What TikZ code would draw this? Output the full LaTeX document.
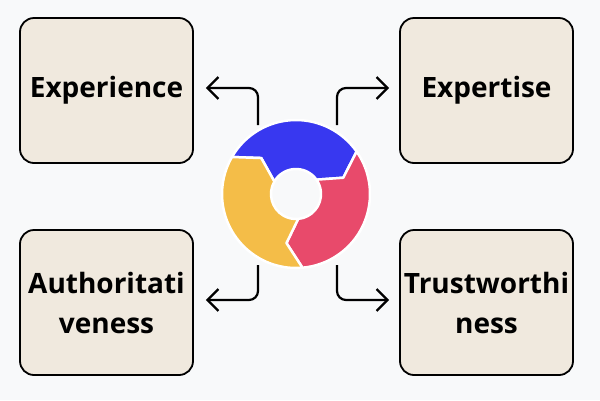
\documentclass[tikz,border=0pt]{standalone}
\usepackage{fontspec}
\setmainfont{Open Sans}
\usetikzlibrary{arrows.meta}
\definecolor{bg}{HTML}{F8F9FA}
\definecolor{boxfill}{HTML}{F0E9DE}
\definecolor{ringblue}{HTML}{3838F0}
\definecolor{ringred}{HTML}{E84A6B}
\definecolor{ringyellow}{HTML}{F4BD48}
\begin{document}
\begin{tikzpicture}
  [
    x=1pt, y=-1pt,
    card/.style={draw=black, line width=1.8pt, fill=boxfill, rounded corners=14pt,
      minimum width=173pt, minimum height=145pt, align=center,
      font=\fontsize{28}{40}\selectfont\bfseries},
    link/.style={line width=2.2pt, rounded corners=9pt, -{Straight Barb[length=11pt,width=22pt,line width=2.2pt]}},
    seg/.style={draw=white, line width=2.5pt, line join=round}
  ]
  \fill[bg] (0,0) rectangle (600,400);
  \useasboundingbox (0,0) rectangle (600,400);
  % cards
  \node [card] (exp)  at (106.5,90.5)  {Experience};
  \node [card] (expt) at (486.5,90.5)  {Expertise};
  \node [card] (auth) at (106.5,302.5) {Authoritati\\veness};
  \node [card] (trust) at (486.5,302.5) {Trustworthi\\ness};
  % ring
  \begin{scope}[shift={(296,194)}, y=1pt]
    \foreach \a/\b/\c in {150/35/ringblue, 35/-85/ringred, -85/-210/ringyellow} {
      \filldraw [seg, fill=\c]
        (\a:74) arc (\a:\b:74) -- (\b-16:50) -- (\b:25)
        arc (\b:\a:25) -- (\a-16:50) -- cycle;
    }
  \end{scope}
  % connectors
  \coordinate (tl) at (258,125);
  \coordinate (tr) at (337,125);
  \coordinate (bl) at (258,265);
  \coordinate (br) at (337,265);
  \draw [link] (tl) |- ([xshift=12pt]exp.east |- 0,88);
  \draw [link] (tr) |- ([xshift=-10pt]expt.west |- 0,88);
  \draw [link] (bl) |- ([xshift=12pt]auth.east |- 0,300);
  \draw [link] (br) |- ([xshift=-10pt]trust.west |- 0,300);
\end{tikzpicture}
\end{document}
